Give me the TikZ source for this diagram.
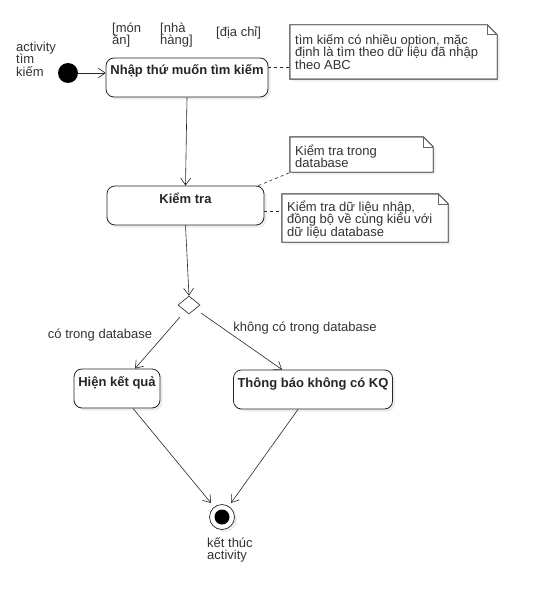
\documentclass[tikz,border=0pt]{standalone}
\usepackage{fontspec}
\setmainfont{Liberation Sans}
\usetikzlibrary{arrows.meta,shapes.geometric,shadows}
\newcommand\mytightls{\lineskiplimit=-20pt\relax}
\begin{document}
\begin{tikzpicture}[x=1pt,y=-1pt,
  txt/.style={text=black!80, font=\fontsize{13}{12.5}\selectfont\mytightls},
  act/.style={draw=black!85, line width=0.8pt, rounded corners=8pt, fill=white,
    drop shadow={shadow xshift=2.5pt, shadow yshift=-2.5pt, opacity=0.15},
    text=black!85, font=\fontsize{13}{13}\selectfont\bfseries,
    inner xsep=2pt, inner ysep=0pt, text height=17pt, text depth=22pt},
  flow/.style={-{Straight Barb[length=7pt,width=10pt]}, line width=0.6pt, draw=black!85},
  notelink/.style={dashed, dash pattern=on 3pt off 3pt, line width=0.6pt, draw=black!85},
  noteframe/.style={rectangle, draw=none, inner sep=0pt},
  noteline/.style={draw=black!60, line width=0.9pt, fill=white},
  noteshadow/.style={drop shadow={shadow xshift=2.5pt, shadow yshift=-2.5pt, opacity=0.12}},
  notetext/.style={txt, align=left, anchor=north west, inner sep=0pt},
  startnode/.style={circle, fill=black, minimum size=20pt, inner sep=0pt},
  decision/.style={diamond, draw=black!85, fill=white, line width=0.6pt, minimum width=22pt, minimum height=18pt, inner sep=0pt}
]
\useasboundingbox (0,0) rectangle (538,607);

% ---------- start ----------
\node[startnode] (start) at (68,73) {};
\node[notetext] (startlbl) at (16,38) {\rule{0pt}{13pt}activity\\tìm\\kiếm};

% option labels
\node[notetext] (opt1) at (112,19) {\rule{0pt}{13pt}[món\\ăn]};
\node[notetext] (opt2) at (160,19) {\rule{0pt}{13pt}[nhà\\hàng]};
\node[notetext] (opt3) at (216,23.5) {\rule{0pt}{13pt}[địa chỉ]};

% ---------- actions ----------
\node[act, minimum width=162pt] (b1) at (187,77.5) {Nhập thứ muốn tìm kiếm};
\node[act, minimum width=157pt] (b2) at (185.5,205.5) {Kiểm tra};
\node[decision] (dec) at (189,305) {};
\node[act, minimum width=86pt] (b3) at (117,388.5) {Hiện kết quả};
\node[act, minimum width=159pt] (b4) at (313,389.5) {Thông báo không có KQ};

% ---------- end ----------
\node[circle, draw=black!85, line width=0.7pt, fill=white, minimum size=25pt, inner sep=0pt,
  drop shadow={shadow xshift=2.5pt, shadow yshift=-2.5pt, opacity=0.15}] (end) at (222,517) {};
\node[circle, fill=black, minimum size=15pt, inner sep=0pt] (endin) at (end) {};
\node[notetext] (endlbl) at (207,534) {\rule{0pt}{13pt}kết thúc\\activity};

% ---------- notes ----------
\node[noteframe, minimum width=207pt, minimum height=54pt] (n1) at (393.5,52) {};
\path[noteline, noteshadow] (n1.north west) -- ([shift={(-10,0)}]n1.north east) -- ([shift={(0,10)}]n1.north east) -- (n1.south east) -- (n1.south west) -- cycle;
\draw[noteline, fill=none, line width=0.6pt] ([shift={(-10,0)}]n1.north east) -- ([shift={(-10,10)}]n1.north east) -- ([shift={(0,10)}]n1.north east);
\draw[noteline, fill=none] (n1.north west) -- ([shift={(-10,0)}]n1.north east) -- ([shift={(0,10)}]n1.north east) -- (n1.south east) -- (n1.south west) -- cycle;
\node[notetext] (t1) at (295,31) {\rule{0pt}{13pt}tìm kiếm có nhiều option, mặc\\định là tìm theo dữ liệu đã nhập\\theo ABC};

\node[noteframe, minimum width=143pt, minimum height=35pt] (n2) at (361.5,154.5) {};
\path[noteline, noteshadow] (n2.north west) -- ([shift={(-10,0)}]n2.north east) -- ([shift={(0,10)}]n2.north east) -- (n2.south east) -- (n2.south west) -- cycle;
\draw[noteline, fill=none, line width=0.6pt] ([shift={(-10,0)}]n2.north east) -- ([shift={(-10,10)}]n2.north east) -- ([shift={(0,10)}]n2.north east);
\draw[noteline, fill=none] (n2.north west) -- ([shift={(-10,0)}]n2.north east) -- ([shift={(0,10)}]n2.north east) -- (n2.south east) -- (n2.south west) -- cycle;
\node[notetext] (t2) at (295,142) {\rule{0pt}{13pt}Kiểm tra trong\\database};

\node[noteframe, minimum width=166pt, minimum height=48pt] (n3) at (365,218) {};
\path[noteline, noteshadow] (n3.north west) -- ([shift={(-10,0)}]n3.north east) -- ([shift={(0,10)}]n3.north east) -- (n3.south east) -- (n3.south west) -- cycle;
\draw[noteline, fill=none, line width=0.6pt] ([shift={(-10,0)}]n3.north east) -- ([shift={(-10,10)}]n3.north east) -- ([shift={(0,10)}]n3.north east);
\draw[noteline, fill=none] (n3.north west) -- ([shift={(-10,0)}]n3.north east) -- ([shift={(0,10)}]n3.north east) -- (n3.south east) -- (n3.south west) -- cycle;
\node[notetext] (t3) at (287,198) {\rule{0pt}{13pt}Kiểm tra dữ liệu nhập,\\đồng bộ về cùng kiểu với\\dữ liệu database};

% ---------- note links ----------
\coordinate (l1) at ([shift={(0,-10.5)}]b1.east);
\draw[notelink] (l1) -- (l1 -| n1.west);
\draw[notelink] ([shift={(-6,0)}]b2.north east) -- ([shift={(1,0)}]n2.south west);
\coordinate (l3) at ([shift={(0,5.5)}]b2.east);
\draw[notelink] (l3) -- (l3 -| n3.west);

% ---------- flows ----------
\draw[flow] (start) -- (start -| b1.west);
\draw[flow] (b1.south) -- (b2.north);
\draw[flow] (b2.south) -- (dec.north);
\draw[flow] ([shift={(-9,12)}]dec.center) -- ([shift={(18,0)}]b3.north);
\node[txt] (lyes) at (100,335) {có trong database};
\draw[flow] ([shift={(12,8)}]dec.center) -- ([shift={(-31,0)}]b4.north);
\node[txt] (lno) at (305,328) {không có trong database};
\draw[flow] ([shift={(16,0)}]b3.south) -- ([shift={(-11,-14)}]end.center);
\draw[flow] ([shift={(-15,0)}]b4.south) -- ([shift={(9,-14)}]end.center);
\end{tikzpicture}
\end{document}
